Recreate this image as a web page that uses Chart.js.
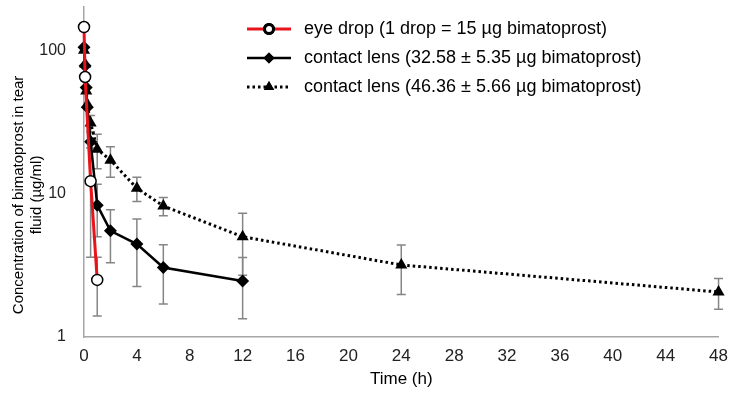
<!DOCTYPE html>
<html>
<head>
<meta charset="utf-8">
<script src="https://cdn.jsdelivr.net/npm/chart.js@4.4.1/dist/chart.umd.min.js"></script>
<style>
  html, body { margin: 0; padding: 0; background: #fff; }
</style>
</head>
<body>
<canvas id="tearFluid" width="737" height="394"></canvas>
<script>
// sampling times (h) and bimatoprost in tear fluid (µg/ml), mean and SD
var eyeDropTime = [0, 0.083, 0.5, 1]
var eyeDropConc = [145, 65, 12.2, 2.5]
var eyeDropSd = [0, 0, 8.6, 1.1]

var lensLowTime = [0, 0.083, 0.167, 0.25, 0.5, 1, 2, 4, 6, 12]
var lensLowConc = [105, 78, 55, 40, 23, 8.3, 5.5, 4.45, 3.05, 2.46]
var lensLowSd = [0, 0, 0, 0, 0, 3.3, 2.2, 2.2, 1.35, 1.12]

var lensHighTime = [0, 0.083, 0.167, 0.25, 0.5, 1, 2, 4, 6, 12, 24, 48]
var lensHighConc = [100, 80, 52, 42, 31, 20.4, 17.1, 10.9, 8.2, 5.0, 3.18, 2.06]
var lensHighSd = [0, 0, 0, 0, 4, 5.5, 4.1, 2.1, 1.2, 2.3, 1.2, 0.5]

var seriesNames = [
  'eye drop (1 drop = 15 µg bimatoprost)',
  'contact lens (32.58 ± 5.35 µg bimatoprost)',
  'contact lens (46.36 ± 5.66 µg bimatoprost)'
]
var xTicks = [0, 4, 8, 12, 16, 20, 24, 28, 32, 36, 40, 44, 48]
var yTicks = [1, 10, 100]

var FONT = "'Liberation Sans', Arial, sans-serif"
// trailing blanks nudge the centred y title a bit lower along the axis
var TITLE_NUDGE = '           '

function points(xs, ys) {
  return xs.map((x, i) => ({x: x, y: ys[i]}))
}

// little line + marker sample for each legend entry
function legendIcon(color, width, dash, marker) {
  let c = document.createElement('canvas')
  c.width = 44
  c.height = 16
  let g = c.getContext('2d')
  g.strokeStyle = color
  g.lineWidth = width
  g.setLineDash(dash)
  g.beginPath()
  g.moveTo(0, 8)
  g.lineTo(44, 8)
  g.stroke()
  g.setLineDash([])
  g.fillStyle = marker.fill
  g.strokeStyle = '#000'
  Chart.helpers.drawPoint(g, {pointStyle: marker.style, radius: marker.radius, borderWidth: marker.border}, 22, 8)
  g.fill()
  if (marker.border) g.stroke()
  return c
}

// vertical SD whiskers, drawn under the markers
const errorBars = {
  id: 'errorBars',
  beforeDatasetsDraw(chart) {
    let ctx = chart.ctx
    let xs = chart.scales.x
    let ys = chart.scales.y
    ctx.save()
    ctx.strokeStyle = '#858585'
    ctx.lineWidth = 1.5
    chart.data.datasets.forEach(ds => {
      ds.data.forEach((pt, i) => {
        let sd = ds.sd[i]
        if (!sd) return
        let px = xs.getPixelForValue(pt.x)
        let top = ys.getPixelForValue(pt.y + sd)
        let bot = ys.getPixelForValue(Math.max(pt.y - sd, 1))
        ctx.beginPath()
        ctx.moveTo(px, top)
        ctx.lineTo(px, bot)
        ctx.moveTo(px - 4.5, top)
        ctx.lineTo(px + 4.5, top)
        ctx.moveTo(px - 4.5, bot)
        ctx.lineTo(px + 4.5, bot)
        ctx.stroke()
      })
    })
    ctx.restore()
  }
}

// push the legend block into the upper middle of the plot
const legendSpot = {
  id: 'legendSpot',
  afterLayout(chart) {
    chart.legend.left += 148
    chart.legend.top += 9
  }
}

const icons = [
  legendIcon('#e8141c', 3, [], {style: 'circle', radius: 4.5, fill: '#fff', border: 1.5}),
  legendIcon('#000', 2.5, [], {style: 'rectRot', radius: 5.5, fill: '#000', border: 0}),
  legendIcon('#000', 3, [2.5, 3], {style: 'triangle', radius: 6, fill: '#000', border: 0})
]

new Chart(document.getElementById('tearFluid'), {
  type: 'line',
  data: {
    datasets: [
      {
        label: seriesNames[0],
        data: points(eyeDropTime, eyeDropConc),
        sd: eyeDropSd,
        borderColor: '#e8141c',
        borderWidth: 3,
        pointStyle: 'circle',
        pointRadius: 5.5,
        pointBackgroundColor: '#fff',
        pointBorderColor: '#000',
        pointBorderWidth: 1.5,
        clip: false
      },
      {
        label: seriesNames[1],
        data: points(lensLowTime, lensLowConc),
        sd: lensLowSd,
        borderColor: '#000',
        borderWidth: 2.5,
        pointStyle: 'rectRot',
        pointRadius: 6.5,
        pointBackgroundColor: '#000',
        pointBorderColor: '#000',
        pointBorderWidth: 0,
        clip: false
      },
      {
        label: seriesNames[2],
        data: points(lensHighTime, lensHighConc),
        sd: lensHighSd,
        borderColor: '#000',
        borderWidth: 3,
        borderDash: [2.5, 3],
        pointStyle: 'triangle',
        pointRadius: 7,
        pointBackgroundColor: '#000',
        pointBorderColor: '#000',
        pointBorderWidth: 0,
        clip: false
      }
    ]
  },
  options: {
    responsive: false,
    animation: false,
    layout: {padding: {left: 0, right: 12, top: 7, bottom: 0}},
    plugins: {
      tooltip: {enabled: false},
      legend: {
        position: 'chartArea',
        align: 'start',
        labels: {
          usePointStyle: true,
          pointStyleWidth: 52,
          boxHeight: 14,
          padding: 11,
          color: '#000',
          font: {family: FONT, size: 18},
          generateLabels(chart) {
            return chart.data.datasets.map((ds, i) => ({
              text: ds.label,
              pointStyle: icons[i],
              datasetIndex: i,
              lineWidth: 0,
              hidden: false,
              fontColor: '#000'
            }))
          }
        }
      }
    },
    scales: {
      x: {
        type: 'linear',
        min: 0,
        max: 48,
        afterBuildTicks: s => { s.ticks = xTicks.map(v => ({value: v})) },
        afterFit: s => { s.height = 57 },
        grid: {display: false, drawTicks: false},
        border: {display: true, color: '#a6a6a6', width: 1.5},
        ticks: {padding: 9, color: '#222', font: {family: FONT, size: 17}, maxRotation: 0},
        title: {display: true, text: 'Time (h)', color: '#000', font: {family: FONT, size: 17}, padding: {top: 0, bottom: 4}}
      },
      y: {
        type: 'logarithmic',
        min: 1,
        max: 200,
        afterBuildTicks: s => { s.ticks = yTicks.map(v => ({value: v})) },
        afterFit: s => {
          s.width = 84
          s.paddingTop = 0
          s.paddingBottom = 0
        },
        grid: {display: false, drawTicks: false},
        border: {display: true, color: '#a6a6a6', width: 1.5},
        ticks: {padding: 18, color: '#222', font: {family: FONT, size: 16}, callback: v => String(v)},
        title: {
          display: true,
          text: ['Concentration of bimatoprost in tear' + TITLE_NUDGE, 'fluid (µg/ml)' + TITLE_NUDGE],
          color: '#000',
          font: {family: FONT, size: 15},
          padding: {top: 10, bottom: 0}
        }
      }
    }
  },
  plugins: [errorBars, legendSpot]
})
</script>
</body>
</html>
